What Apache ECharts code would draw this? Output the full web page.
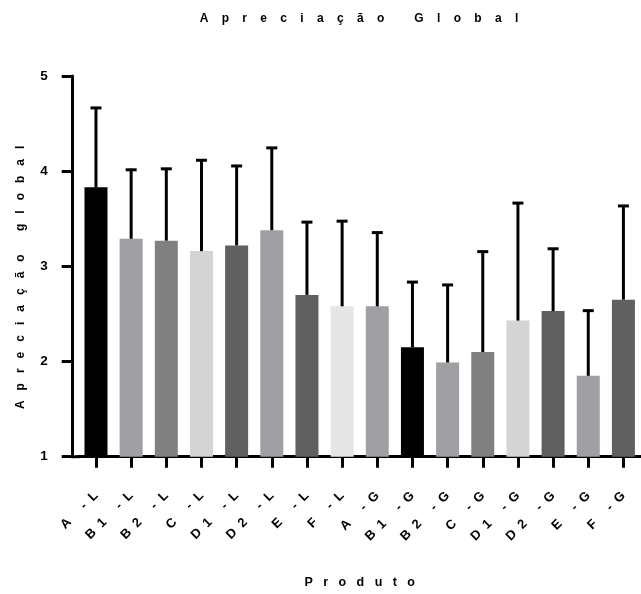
<!DOCTYPE html>
<html>
<head>
<meta charset="utf-8">
<script src="https://cdn.jsdelivr.net/npm/echarts@6/dist/echarts.min.js"></script>
<style>html,body{margin:0;padding:0;background:#fff}#c{width:641px;height:594px}</style>
</head>
<body>
<div id="c"></div>
<script>
// ---- data ----
const categories = ["A -L","B1 -L","B2 -L","C -L","D1 -L","D2 -L","E -L","F -L","A -G","B1 -G","B2 -G","C -G","D1 -G","D2 -G","E -G","F -G"];
const means = [3.83,3.29,3.27,3.16,3.22,3.38,2.70,2.58,2.58,2.15,1.99,2.10,2.43,2.53,1.85,2.65];
const errors = [0.84,0.73,0.76,0.96,0.84,0.87,0.77,0.90,0.78,0.69,0.82,1.06,1.24,0.66,0.69,0.99];
const yTicks = [1,2,3,4,5];
const titleText = "Apreciação Global";
const yName = "Apreciação global";
const xName = "Produto";

// ---- styles ----
const barColors = ["#000000","#a0a0a4","#808080","#d4d4d4","#606060","#a0a0a4","#606060","#e6e6e6","#a0a0a4","#000000","#a0a0a4","#808080","#d4d4d4","#606060","#a0a0a4","#606060"];
const FONT = "'Liberation Sans', Arial, Helvetica, sans-serif";
function spaced(s, n){ return Array.from(s).join(" ".repeat(n)); }

const chart = echarts.init(document.getElementById('c'), null, {renderer:'canvas'});
const option = {
  animation:false,
  backgroundColor:'#fff',
  title:{
    text: spaced(titleText,4),
    left: 354, top: 8, textAlign:'center',
    textStyle:{fontFamily:FONT,fontWeight:'bold',fontSize:12,color:'#000'}
  },
  grid:{left:78.4, right:-1, top:76, bottom:137.3, containLabel:false},
  xAxis:{
    type:'category',
    data:categories,
    name: spaced(xName,3),
    nameLocation:'middle',
    nameGap:119,
    nameTextStyle:{fontFamily:FONT,fontWeight:'bold',fontSize:12.5,color:'#000'},
    axisLine:{show:true,lineStyle:{color:'#000',width:3}},
    axisTick:{show:true,alignWithLabel:true,length:11,lineStyle:{color:'#000',width:3}},
    axisLabel:{
      rotate:45, margin:37, interval:0,
      fontFamily:FONT,fontWeight:'bold',fontSize:13,color:'#000',
      formatter:(v)=>spaced(v,2)
    },
    splitLine:{show:false}
  },
  yAxis:{
    type:'value', min:yTicks[0], max:yTicks[yTicks.length-1], interval:1,
    offset:5.7,
    name: spaced(yName,3),
    nameLocation:'middle',
    nameGap:46,
    nameRotate:90,
    nameTextStyle:{fontFamily:FONT,fontWeight:'bold',fontSize:12,color:'#000',padding:[0,22,0,0]},
    axisLine:{show:true,lineStyle:{color:'#000',width:3}},
    axisTick:{show:true,length:11,lineStyle:{color:'#000',width:3}},
    axisLabel:{margin:25,fontFamily:FONT,fontWeight:'bold',fontSize:13.5,color:'#000'},
    splitLine:{show:false}
  },
  graphic:[{
    type:'line', z:10,
    shape:{x1:71.2,y1:456.7,x2:80,y2:456.7},
    style:{stroke:'#000',lineWidth:3}
  }],
  series:[
    {
      type:'bar',
      barWidth:23,
      data: means.map((v,i)=>({value:v,itemStyle:{color:barColors[i]}})),
      z:2
    },
    {
      type:'custom',
      z:5,
      data: means.map((v,i)=>[i, v, v+errors[i]]),
      renderItem:(params, api)=>{
        const base = api.coord([api.value(0), api.value(1)]);
        const top = api.coord([api.value(0), api.value(2)]);
        const half = 5.5;
        return {
          type:'group',
          children:[
            {type:'line',shape:{x1:base[0],y1:base[1],x2:top[0],y2:top[1]},style:{stroke:'#000',lineWidth:3}},
            {type:'line',shape:{x1:top[0]-half,y1:top[1]+0.5,x2:top[0]+half,y2:top[1]+0.5},style:{stroke:'#000',lineWidth:3}}
          ]
        };
      }
    }
  ]
};
chart.setOption(option);
</script>
</body>
</html>
